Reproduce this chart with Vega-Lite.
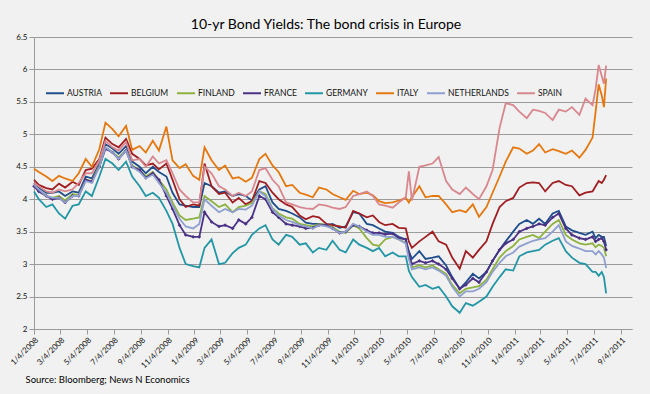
{
"$schema":"https://vega.github.io/schema/vega-lite/v6.json",
"width":598,"height":292,
"autosize":{"type":"none"},
"padding":{"left":34,"top":37,"right":18,"bottom":65},
"background":"#F1F1F1",
"config":{"view":{"stroke":null},"font":"Lato"},
"title":{"text":"10-yr Bond Yields: The bond crisis in Europe","font":"Lato","fontSize":14,"fontWeight":"normal","color":"#000","anchor":"middle","offset":1,"dx":-7},
"datasets":{
"AUSTRIA":[{"date":"2008-01-04","yield":4.25},{"date":"2008-01-15","yield":4.18},{"date":"2008-02-01","yield":4.10},{"date":"2008-02-15","yield":4.10},{"date":"2008-03-01","yield":4.12},{"date":"2008-03-15","yield":4.05},{"date":"2008-04-01","yield":4.12},{"date":"2008-04-15","yield":4.10},{"date":"2008-05-01","yield":4.35},{"date":"2008-05-15","yield":4.32},{"date":"2008-06-01","yield":4.55},{"date":"2008-06-15","yield":4.85},{"date":"2008-07-01","yield":4.78},{"date":"2008-07-15","yield":4.70},{"date":"2008-08-01","yield":4.82},{"date":"2008-08-15","yield":4.58},{"date":"2008-09-01","yield":4.50},{"date":"2008-09-15","yield":4.40},{"date":"2008-10-01","yield":4.50},{"date":"2008-10-15","yield":4.42},{"date":"2008-11-01","yield":4.35},{"date":"2008-11-15","yield":4.10},{"date":"2008-12-01","yield":3.92},{"date":"2008-12-15","yield":3.90},{"date":"2009-01-01","yield":3.88},{"date":"2009-01-15","yield":3.88},{"date":"2009-01-27","yield":4.25},{"date":"2009-02-12","yield":4.20},{"date":"2009-03-01","yield":4.10},{"date":"2009-03-15","yield":4.12},{"date":"2009-04-01","yield":4.05},{"date":"2009-04-15","yield":4.08},{"date":"2009-05-01","yield":4.05},{"date":"2009-05-15","yield":3.98},{"date":"2009-06-01","yield":4.15},{"date":"2009-06-15","yield":4.20},{"date":"2009-07-01","yield":3.95},{"date":"2009-07-15","yield":3.85},{"date":"2009-08-01","yield":3.82},{"date":"2009-08-15","yield":3.78},{"date":"2009-09-01","yield":3.72},{"date":"2009-09-15","yield":3.64},{"date":"2009-10-01","yield":3.62},{"date":"2009-10-15","yield":3.62},{"date":"2009-11-01","yield":3.60},{"date":"2009-11-15","yield":3.62},{"date":"2009-12-01","yield":3.56},{"date":"2009-12-15","yield":3.58},{"date":"2010-01-01","yield":3.80},{"date":"2010-01-15","yield":3.78},{"date":"2010-02-01","yield":3.62},{"date":"2010-02-15","yield":3.60},{"date":"2010-03-01","yield":3.55},{"date":"2010-03-15","yield":3.50},{"date":"2010-04-01","yield":3.48},{"date":"2010-04-15","yield":3.42},{"date":"2010-05-01","yield":3.38},{"date":"2010-05-08","yield":3.20},{"date":"2010-05-15","yield":3.08},{"date":"2010-06-01","yield":3.20},{"date":"2010-06-15","yield":3.08},{"date":"2010-07-01","yield":3.10},{"date":"2010-07-15","yield":3.12},{"date":"2010-08-01","yield":2.98},{"date":"2010-08-15","yield":2.80},{"date":"2010-09-01","yield":2.62},{"date":"2010-09-15","yield":2.72},{"date":"2010-10-01","yield":2.85},{"date":"2010-10-15","yield":2.78},{"date":"2010-11-01","yield":2.88},{"date":"2010-11-15","yield":3.05},{"date":"2010-12-01","yield":3.22},{"date":"2010-12-15","yield":3.35},{"date":"2011-01-01","yield":3.50},{"date":"2011-01-15","yield":3.62},{"date":"2011-02-01","yield":3.68},{"date":"2011-02-15","yield":3.62},{"date":"2011-03-01","yield":3.70},{"date":"2011-03-15","yield":3.62},{"date":"2011-04-01","yield":3.78},{"date":"2011-04-15","yield":3.82},{"date":"2011-05-01","yield":3.58},{"date":"2011-05-15","yield":3.52},{"date":"2011-06-01","yield":3.48},{"date":"2011-06-15","yield":3.45},{"date":"2011-07-01","yield":3.50},{"date":"2011-07-08","yield":3.40},{"date":"2011-07-15","yield":3.45},{"date":"2011-07-22","yield":3.42},{"date":"2011-07-27","yield":3.42},{"date":"2011-08-01","yield":3.28}],
"BELGIUM":[{"date":"2008-01-04","yield":4.30},{"date":"2008-01-15","yield":4.22},{"date":"2008-02-01","yield":4.17},{"date":"2008-02-15","yield":4.15},{"date":"2008-03-01","yield":4.24},{"date":"2008-03-15","yield":4.18},{"date":"2008-04-01","yield":4.27},{"date":"2008-04-15","yield":4.22},{"date":"2008-05-01","yield":4.45},{"date":"2008-05-15","yield":4.47},{"date":"2008-06-01","yield":4.62},{"date":"2008-06-15","yield":4.95},{"date":"2008-07-01","yield":4.85},{"date":"2008-07-15","yield":4.80},{"date":"2008-08-01","yield":4.93},{"date":"2008-08-15","yield":4.70},{"date":"2008-09-01","yield":4.62},{"date":"2008-09-15","yield":4.52},{"date":"2008-10-01","yield":4.55},{"date":"2008-10-15","yield":4.46},{"date":"2008-11-01","yield":4.55},{"date":"2008-11-15","yield":4.30},{"date":"2008-12-01","yield":4.00},{"date":"2008-12-15","yield":3.88},{"date":"2009-01-01","yield":3.92},{"date":"2009-01-15","yield":3.90},{"date":"2009-01-27","yield":4.55},{"date":"2009-02-12","yield":4.20},{"date":"2009-03-01","yield":4.08},{"date":"2009-03-15","yield":4.10},{"date":"2009-04-01","yield":3.95},{"date":"2009-04-15","yield":4.02},{"date":"2009-05-01","yield":3.92},{"date":"2009-05-15","yield":3.97},{"date":"2009-06-01","yield":4.28},{"date":"2009-06-15","yield":4.25},{"date":"2009-07-01","yield":4.10},{"date":"2009-07-15","yield":4.00},{"date":"2009-08-01","yield":3.92},{"date":"2009-08-15","yield":3.88},{"date":"2009-09-01","yield":3.75},{"date":"2009-09-15","yield":3.69},{"date":"2009-10-01","yield":3.74},{"date":"2009-10-15","yield":3.72},{"date":"2009-11-01","yield":3.62},{"date":"2009-11-15","yield":3.60},{"date":"2009-12-01","yield":3.58},{"date":"2009-12-15","yield":3.56},{"date":"2010-01-01","yield":3.82},{"date":"2010-01-15","yield":3.78},{"date":"2010-02-01","yield":3.72},{"date":"2010-02-15","yield":3.75},{"date":"2010-03-01","yield":3.65},{"date":"2010-03-15","yield":3.60},{"date":"2010-04-01","yield":3.62},{"date":"2010-04-15","yield":3.56},{"date":"2010-05-01","yield":3.55},{"date":"2010-05-08","yield":3.35},{"date":"2010-05-15","yield":3.25},{"date":"2010-06-01","yield":3.35},{"date":"2010-06-15","yield":3.42},{"date":"2010-07-01","yield":3.50},{"date":"2010-07-15","yield":3.35},{"date":"2010-08-01","yield":3.30},{"date":"2010-08-15","yield":3.10},{"date":"2010-09-01","yield":2.93},{"date":"2010-09-15","yield":3.20},{"date":"2010-10-01","yield":3.10},{"date":"2010-10-15","yield":3.22},{"date":"2010-11-01","yield":3.35},{"date":"2010-11-15","yield":3.62},{"date":"2010-12-01","yield":3.88},{"date":"2010-12-15","yield":3.97},{"date":"2011-01-01","yield":4.02},{"date":"2011-01-15","yield":4.18},{"date":"2011-02-01","yield":4.25},{"date":"2011-02-15","yield":4.26},{"date":"2011-03-01","yield":4.25},{"date":"2011-03-15","yield":4.12},{"date":"2011-04-01","yield":4.25},{"date":"2011-04-15","yield":4.28},{"date":"2011-05-01","yield":4.22},{"date":"2011-05-15","yield":4.20},{"date":"2011-06-01","yield":4.06},{"date":"2011-06-15","yield":4.10},{"date":"2011-07-01","yield":4.12},{"date":"2011-07-08","yield":4.20},{"date":"2011-07-15","yield":4.28},{"date":"2011-07-22","yield":4.25},{"date":"2011-07-27","yield":4.30},{"date":"2011-08-01","yield":4.37}],
"FINLAND":[{"date":"2008-01-04","yield":4.20},{"date":"2008-01-15","yield":4.13},{"date":"2008-02-01","yield":4.05},{"date":"2008-02-15","yield":4.02},{"date":"2008-03-01","yield":4.05},{"date":"2008-03-15","yield":3.98},{"date":"2008-04-01","yield":4.08},{"date":"2008-04-15","yield":4.06},{"date":"2008-05-01","yield":4.30},{"date":"2008-05-15","yield":4.28},{"date":"2008-06-01","yield":4.52},{"date":"2008-06-15","yield":4.80},{"date":"2008-07-01","yield":4.73},{"date":"2008-07-15","yield":4.64},{"date":"2008-08-01","yield":4.76},{"date":"2008-08-15","yield":4.52},{"date":"2008-09-01","yield":4.45},{"date":"2008-09-15","yield":4.35},{"date":"2008-10-01","yield":4.42},{"date":"2008-10-15","yield":4.30},{"date":"2008-11-01","yield":4.15},{"date":"2008-11-15","yield":3.95},{"date":"2008-12-01","yield":3.75},{"date":"2008-12-15","yield":3.68},{"date":"2009-01-01","yield":3.70},{"date":"2009-01-15","yield":3.72},{"date":"2009-01-27","yield":4.05},{"date":"2009-02-12","yield":3.97},{"date":"2009-03-01","yield":3.88},{"date":"2009-03-15","yield":3.92},{"date":"2009-04-01","yield":3.80},{"date":"2009-04-15","yield":3.88},{"date":"2009-05-01","yield":3.90},{"date":"2009-05-15","yield":3.94},{"date":"2009-06-01","yield":4.12},{"date":"2009-06-15","yield":4.08},{"date":"2009-07-01","yield":3.86},{"date":"2009-07-15","yield":3.78},{"date":"2009-08-01","yield":3.72},{"date":"2009-08-15","yield":3.70},{"date":"2009-09-01","yield":3.62},{"date":"2009-09-15","yield":3.60},{"date":"2009-10-01","yield":3.58},{"date":"2009-10-15","yield":3.62},{"date":"2009-11-01","yield":3.60},{"date":"2009-11-15","yield":3.57},{"date":"2009-12-01","yield":3.50},{"date":"2009-12-15","yield":3.48},{"date":"2010-01-01","yield":3.60},{"date":"2010-01-15","yield":3.55},{"date":"2010-02-01","yield":3.40},{"date":"2010-02-15","yield":3.30},{"date":"2010-03-01","yield":3.28},{"date":"2010-03-15","yield":3.38},{"date":"2010-04-01","yield":3.42},{"date":"2010-04-15","yield":3.38},{"date":"2010-05-01","yield":3.33},{"date":"2010-05-08","yield":3.10},{"date":"2010-05-15","yield":2.95},{"date":"2010-06-01","yield":2.98},{"date":"2010-06-15","yield":2.95},{"date":"2010-07-01","yield":2.98},{"date":"2010-07-15","yield":2.92},{"date":"2010-08-01","yield":2.85},{"date":"2010-08-15","yield":2.68},{"date":"2010-09-01","yield":2.55},{"date":"2010-09-15","yield":2.62},{"date":"2010-10-01","yield":2.64},{"date":"2010-10-15","yield":2.66},{"date":"2010-11-01","yield":2.76},{"date":"2010-11-15","yield":2.92},{"date":"2010-12-01","yield":3.10},{"date":"2010-12-15","yield":3.20},{"date":"2011-01-01","yield":3.28},{"date":"2011-01-15","yield":3.38},{"date":"2011-02-01","yield":3.42},{"date":"2011-02-15","yield":3.45},{"date":"2011-03-01","yield":3.40},{"date":"2011-03-15","yield":3.50},{"date":"2011-04-01","yield":3.62},{"date":"2011-04-15","yield":3.68},{"date":"2011-05-01","yield":3.45},{"date":"2011-05-15","yield":3.38},{"date":"2011-06-01","yield":3.32},{"date":"2011-06-15","yield":3.30},{"date":"2011-07-01","yield":3.32},{"date":"2011-07-08","yield":3.26},{"date":"2011-07-15","yield":3.30},{"date":"2011-07-22","yield":3.28},{"date":"2011-07-27","yield":3.25},{"date":"2011-08-01","yield":3.12}],
"FRANCE":[{"date":"2008-01-04","yield":4.20},{"date":"2008-01-15","yield":4.12},{"date":"2008-02-01","yield":4.05},{"date":"2008-02-15","yield":4.00},{"date":"2008-03-01","yield":4.02},{"date":"2008-03-15","yield":3.95},{"date":"2008-04-01","yield":4.05},{"date":"2008-04-15","yield":4.05},{"date":"2008-05-01","yield":4.30},{"date":"2008-05-15","yield":4.27},{"date":"2008-06-01","yield":4.50},{"date":"2008-06-15","yield":4.78},{"date":"2008-07-01","yield":4.72},{"date":"2008-07-15","yield":4.62},{"date":"2008-08-01","yield":4.75},{"date":"2008-08-15","yield":4.50},{"date":"2008-09-01","yield":4.45},{"date":"2008-09-15","yield":4.33},{"date":"2008-10-01","yield":4.40},{"date":"2008-10-15","yield":4.30},{"date":"2008-11-01","yield":4.05},{"date":"2008-11-15","yield":3.85},{"date":"2008-12-01","yield":3.60},{"date":"2008-12-15","yield":3.45},{"date":"2009-01-01","yield":3.42},{"date":"2009-01-15","yield":3.42},{"date":"2009-01-27","yield":3.80},{"date":"2009-02-12","yield":3.65},{"date":"2009-03-01","yield":3.58},{"date":"2009-03-15","yield":3.60},{"date":"2009-04-01","yield":3.55},{"date":"2009-04-15","yield":3.68},{"date":"2009-05-01","yield":3.62},{"date":"2009-05-15","yield":3.72},{"date":"2009-06-01","yield":4.05},{"date":"2009-06-15","yield":4.00},{"date":"2009-07-01","yield":3.80},{"date":"2009-07-15","yield":3.72},{"date":"2009-08-01","yield":3.62},{"date":"2009-08-15","yield":3.60},{"date":"2009-09-01","yield":3.58},{"date":"2009-09-15","yield":3.55},{"date":"2009-10-01","yield":3.56},{"date":"2009-10-15","yield":3.60},{"date":"2009-11-01","yield":3.60},{"date":"2009-11-15","yield":3.55},{"date":"2009-12-01","yield":3.48},{"date":"2009-12-15","yield":3.50},{"date":"2010-01-01","yield":3.60},{"date":"2010-01-15","yield":3.58},{"date":"2010-02-01","yield":3.52},{"date":"2010-02-15","yield":3.48},{"date":"2010-03-01","yield":3.48},{"date":"2010-03-15","yield":3.46},{"date":"2010-04-01","yield":3.47},{"date":"2010-04-15","yield":3.40},{"date":"2010-05-01","yield":3.38},{"date":"2010-05-08","yield":3.15},{"date":"2010-05-15","yield":3.00},{"date":"2010-06-01","yield":3.05},{"date":"2010-06-15","yield":3.02},{"date":"2010-07-01","yield":3.05},{"date":"2010-07-15","yield":3.00},{"date":"2010-08-01","yield":2.92},{"date":"2010-08-15","yield":2.78},{"date":"2010-09-01","yield":2.62},{"date":"2010-09-15","yield":2.68},{"date":"2010-10-01","yield":2.78},{"date":"2010-10-15","yield":2.72},{"date":"2010-11-01","yield":2.88},{"date":"2010-11-15","yield":3.05},{"date":"2010-12-01","yield":3.22},{"date":"2010-12-15","yield":3.32},{"date":"2011-01-01","yield":3.38},{"date":"2011-01-15","yield":3.50},{"date":"2011-02-01","yield":3.55},{"date":"2011-02-15","yield":3.58},{"date":"2011-03-01","yield":3.62},{"date":"2011-03-15","yield":3.60},{"date":"2011-04-01","yield":3.72},{"date":"2011-04-15","yield":3.78},{"date":"2011-05-01","yield":3.55},{"date":"2011-05-15","yield":3.45},{"date":"2011-06-01","yield":3.40},{"date":"2011-06-15","yield":3.38},{"date":"2011-07-01","yield":3.42},{"date":"2011-07-08","yield":3.35},{"date":"2011-07-15","yield":3.38},{"date":"2011-07-22","yield":3.40},{"date":"2011-07-27","yield":3.35},{"date":"2011-08-01","yield":3.22}],
"GERMANY":[{"date":"2008-01-04","yield":4.12},{"date":"2008-01-15","yield":4.00},{"date":"2008-02-01","yield":3.88},{"date":"2008-02-15","yield":3.92},{"date":"2008-03-01","yield":3.78},{"date":"2008-03-15","yield":3.70},{"date":"2008-04-01","yield":3.90},{"date":"2008-04-15","yield":3.92},{"date":"2008-05-01","yield":4.12},{"date":"2008-05-15","yield":4.05},{"date":"2008-06-01","yield":4.35},{"date":"2008-06-15","yield":4.62},{"date":"2008-07-01","yield":4.55},{"date":"2008-07-15","yield":4.45},{"date":"2008-08-01","yield":4.58},{"date":"2008-08-15","yield":4.35},{"date":"2008-09-01","yield":4.20},{"date":"2008-09-15","yield":4.05},{"date":"2008-10-01","yield":4.10},{"date":"2008-10-15","yield":4.02},{"date":"2008-11-01","yield":3.82},{"date":"2008-11-15","yield":3.62},{"date":"2008-12-01","yield":3.25},{"date":"2008-12-15","yield":3.00},{"date":"2009-01-01","yield":2.97},{"date":"2009-01-15","yield":2.95},{"date":"2009-01-27","yield":3.25},{"date":"2009-02-12","yield":3.38},{"date":"2009-03-01","yield":3.00},{"date":"2009-03-15","yield":3.02},{"date":"2009-04-01","yield":3.17},{"date":"2009-04-15","yield":3.25},{"date":"2009-05-01","yield":3.30},{"date":"2009-05-15","yield":3.45},{"date":"2009-06-01","yield":3.55},{"date":"2009-06-15","yield":3.60},{"date":"2009-07-01","yield":3.38},{"date":"2009-07-15","yield":3.30},{"date":"2009-08-01","yield":3.45},{"date":"2009-08-15","yield":3.42},{"date":"2009-09-01","yield":3.30},{"date":"2009-09-15","yield":3.32},{"date":"2009-10-01","yield":3.18},{"date":"2009-10-15","yield":3.25},{"date":"2009-11-01","yield":3.22},{"date":"2009-11-15","yield":3.36},{"date":"2009-12-01","yield":3.22},{"date":"2009-12-15","yield":3.18},{"date":"2010-01-01","yield":3.38},{"date":"2010-01-15","yield":3.30},{"date":"2010-02-01","yield":3.25},{"date":"2010-02-15","yield":3.20},{"date":"2010-03-01","yield":3.25},{"date":"2010-03-15","yield":3.12},{"date":"2010-04-01","yield":3.18},{"date":"2010-04-15","yield":3.12},{"date":"2010-05-01","yield":3.12},{"date":"2010-05-08","yield":2.90},{"date":"2010-05-15","yield":2.80},{"date":"2010-06-01","yield":2.65},{"date":"2010-06-15","yield":2.68},{"date":"2010-07-01","yield":2.62},{"date":"2010-07-15","yield":2.65},{"date":"2010-08-01","yield":2.50},{"date":"2010-08-15","yield":2.35},{"date":"2010-09-01","yield":2.25},{"date":"2010-09-15","yield":2.40},{"date":"2010-10-01","yield":2.36},{"date":"2010-10-15","yield":2.42},{"date":"2010-11-01","yield":2.50},{"date":"2010-11-15","yield":2.65},{"date":"2010-12-01","yield":2.80},{"date":"2010-12-15","yield":2.92},{"date":"2011-01-01","yield":2.90},{"date":"2011-01-15","yield":3.12},{"date":"2011-02-01","yield":3.18},{"date":"2011-02-15","yield":3.20},{"date":"2011-03-01","yield":3.22},{"date":"2011-03-15","yield":3.30},{"date":"2011-04-01","yield":3.36},{"date":"2011-04-15","yield":3.40},{"date":"2011-05-01","yield":3.20},{"date":"2011-05-15","yield":3.10},{"date":"2011-06-01","yield":3.02},{"date":"2011-06-15","yield":3.00},{"date":"2011-07-01","yield":2.88},{"date":"2011-07-08","yield":2.88},{"date":"2011-07-15","yield":2.82},{"date":"2011-07-22","yield":2.88},{"date":"2011-07-27","yield":2.80},{"date":"2011-08-01","yield":2.55}],
"ITALY":[{"date":"2008-01-04","yield":4.47},{"date":"2008-01-15","yield":4.42},{"date":"2008-02-01","yield":4.35},{"date":"2008-02-15","yield":4.28},{"date":"2008-03-01","yield":4.36},{"date":"2008-03-15","yield":4.32},{"date":"2008-04-01","yield":4.28},{"date":"2008-04-15","yield":4.40},{"date":"2008-05-01","yield":4.62},{"date":"2008-05-15","yield":4.50},{"date":"2008-06-01","yield":4.77},{"date":"2008-06-15","yield":5.18},{"date":"2008-07-01","yield":5.08},{"date":"2008-07-15","yield":4.97},{"date":"2008-08-01","yield":5.13},{"date":"2008-08-15","yield":4.76},{"date":"2008-09-01","yield":4.82},{"date":"2008-09-15","yield":4.72},{"date":"2008-10-01","yield":4.90},{"date":"2008-10-15","yield":4.75},{"date":"2008-11-01","yield":5.12},{"date":"2008-11-15","yield":4.60},{"date":"2008-12-01","yield":4.48},{"date":"2008-12-15","yield":4.54},{"date":"2009-01-01","yield":4.36},{"date":"2009-01-15","yield":4.30},{"date":"2009-01-27","yield":4.80},{"date":"2009-02-12","yield":4.60},{"date":"2009-03-01","yield":4.45},{"date":"2009-03-15","yield":4.52},{"date":"2009-04-01","yield":4.32},{"date":"2009-04-15","yield":4.34},{"date":"2009-05-01","yield":4.27},{"date":"2009-05-15","yield":4.33},{"date":"2009-06-01","yield":4.62},{"date":"2009-06-15","yield":4.70},{"date":"2009-07-01","yield":4.52},{"date":"2009-07-15","yield":4.42},{"date":"2009-08-01","yield":4.20},{"date":"2009-08-15","yield":4.22},{"date":"2009-09-01","yield":4.10},{"date":"2009-09-15","yield":4.07},{"date":"2009-10-01","yield":4.03},{"date":"2009-10-15","yield":4.18},{"date":"2009-11-01","yield":4.15},{"date":"2009-11-15","yield":4.08},{"date":"2009-12-01","yield":4.03},{"date":"2009-12-15","yield":3.99},{"date":"2010-01-01","yield":4.13},{"date":"2010-01-15","yield":4.08},{"date":"2010-02-01","yield":4.10},{"date":"2010-02-15","yield":4.06},{"date":"2010-03-01","yield":3.97},{"date":"2010-03-15","yield":3.94},{"date":"2010-04-01","yield":3.95},{"date":"2010-04-15","yield":3.98},{"date":"2010-05-01","yield":4.02},{"date":"2010-05-08","yield":3.95},{"date":"2010-05-15","yield":4.03},{"date":"2010-06-01","yield":4.20},{"date":"2010-06-15","yield":4.03},{"date":"2010-07-01","yield":4.05},{"date":"2010-07-15","yield":4.05},{"date":"2010-08-01","yield":3.92},{"date":"2010-08-15","yield":3.80},{"date":"2010-09-01","yield":3.83},{"date":"2010-09-15","yield":3.80},{"date":"2010-10-01","yield":3.92},{"date":"2010-10-15","yield":3.73},{"date":"2010-11-01","yield":3.88},{"date":"2010-11-15","yield":4.10},{"date":"2010-12-01","yield":4.35},{"date":"2010-12-15","yield":4.58},{"date":"2011-01-01","yield":4.80},{"date":"2011-01-15","yield":4.78},{"date":"2011-02-01","yield":4.70},{"date":"2011-02-15","yield":4.75},{"date":"2011-03-01","yield":4.85},{"date":"2011-03-15","yield":4.72},{"date":"2011-04-01","yield":4.77},{"date":"2011-04-15","yield":4.74},{"date":"2011-05-01","yield":4.70},{"date":"2011-05-15","yield":4.75},{"date":"2011-06-01","yield":4.64},{"date":"2011-06-15","yield":4.76},{"date":"2011-07-01","yield":4.95},{"date":"2011-07-08","yield":5.35},{"date":"2011-07-15","yield":5.77},{"date":"2011-07-22","yield":5.60},{"date":"2011-07-27","yield":5.42},{"date":"2011-08-01","yield":5.86}],
"NETHERLANDS":[{"date":"2008-01-04","yield":4.22},{"date":"2008-01-15","yield":4.15},{"date":"2008-02-01","yield":4.05},{"date":"2008-02-15","yield":4.02},{"date":"2008-03-01","yield":4.02},{"date":"2008-03-15","yield":3.95},{"date":"2008-04-01","yield":4.05},{"date":"2008-04-15","yield":4.05},{"date":"2008-05-01","yield":4.28},{"date":"2008-05-15","yield":4.25},{"date":"2008-06-01","yield":4.50},{"date":"2008-06-15","yield":4.80},{"date":"2008-07-01","yield":4.72},{"date":"2008-07-15","yield":4.62},{"date":"2008-08-01","yield":4.75},{"date":"2008-08-15","yield":4.50},{"date":"2008-09-01","yield":4.42},{"date":"2008-09-15","yield":4.32},{"date":"2008-10-01","yield":4.38},{"date":"2008-10-15","yield":4.25},{"date":"2008-11-01","yield":4.10},{"date":"2008-11-15","yield":3.90},{"date":"2008-12-01","yield":3.70},{"date":"2008-12-15","yield":3.58},{"date":"2009-01-01","yield":3.55},{"date":"2009-01-15","yield":3.62},{"date":"2009-01-27","yield":4.00},{"date":"2009-02-12","yield":3.90},{"date":"2009-03-01","yield":3.80},{"date":"2009-03-15","yield":3.85},{"date":"2009-04-01","yield":3.80},{"date":"2009-04-15","yield":3.85},{"date":"2009-05-01","yield":3.84},{"date":"2009-05-15","yield":3.90},{"date":"2009-06-01","yield":4.12},{"date":"2009-06-15","yield":4.05},{"date":"2009-07-01","yield":3.85},{"date":"2009-07-15","yield":3.75},{"date":"2009-08-01","yield":3.68},{"date":"2009-08-15","yield":3.65},{"date":"2009-09-01","yield":3.60},{"date":"2009-09-15","yield":3.58},{"date":"2009-10-01","yield":3.55},{"date":"2009-10-15","yield":3.60},{"date":"2009-11-01","yield":3.58},{"date":"2009-11-15","yield":3.55},{"date":"2009-12-01","yield":3.48},{"date":"2009-12-15","yield":3.50},{"date":"2010-01-01","yield":3.62},{"date":"2010-01-15","yield":3.58},{"date":"2010-02-01","yield":3.50},{"date":"2010-02-15","yield":3.45},{"date":"2010-03-01","yield":3.45},{"date":"2010-03-15","yield":3.42},{"date":"2010-04-01","yield":3.42},{"date":"2010-04-15","yield":3.38},{"date":"2010-05-01","yield":3.32},{"date":"2010-05-08","yield":3.08},{"date":"2010-05-15","yield":2.92},{"date":"2010-06-01","yield":2.95},{"date":"2010-06-15","yield":2.92},{"date":"2010-07-01","yield":2.95},{"date":"2010-07-15","yield":2.90},{"date":"2010-08-01","yield":2.82},{"date":"2010-08-15","yield":2.65},{"date":"2010-09-01","yield":2.50},{"date":"2010-09-15","yield":2.58},{"date":"2010-10-01","yield":2.58},{"date":"2010-10-15","yield":2.62},{"date":"2010-11-01","yield":2.72},{"date":"2010-11-15","yield":2.88},{"date":"2010-12-01","yield":3.02},{"date":"2010-12-15","yield":3.12},{"date":"2011-01-01","yield":3.18},{"date":"2011-01-15","yield":3.27},{"date":"2011-02-01","yield":3.32},{"date":"2011-02-15","yield":3.36},{"date":"2011-03-01","yield":3.38},{"date":"2011-03-15","yield":3.40},{"date":"2011-04-01","yield":3.50},{"date":"2011-04-15","yield":3.60},{"date":"2011-05-01","yield":3.35},{"date":"2011-05-15","yield":3.28},{"date":"2011-06-01","yield":3.24},{"date":"2011-06-15","yield":3.20},{"date":"2011-07-01","yield":3.20},{"date":"2011-07-08","yield":3.15},{"date":"2011-07-15","yield":3.20},{"date":"2011-07-22","yield":3.15},{"date":"2011-07-27","yield":3.10},{"date":"2011-08-01","yield":2.94}],
"SPAIN":[{"date":"2008-01-04","yield":4.25},{"date":"2008-01-15","yield":4.20},{"date":"2008-02-01","yield":4.12},{"date":"2008-02-15","yield":4.10},{"date":"2008-03-01","yield":4.15},{"date":"2008-03-15","yield":4.12},{"date":"2008-04-01","yield":4.15},{"date":"2008-04-15","yield":4.25},{"date":"2008-05-01","yield":4.40},{"date":"2008-05-15","yield":4.40},{"date":"2008-06-01","yield":4.60},{"date":"2008-06-15","yield":4.90},{"date":"2008-07-01","yield":4.80},{"date":"2008-07-15","yield":4.75},{"date":"2008-08-01","yield":4.88},{"date":"2008-08-15","yield":4.60},{"date":"2008-09-01","yield":4.62},{"date":"2008-09-15","yield":4.50},{"date":"2008-10-01","yield":4.66},{"date":"2008-10-15","yield":4.55},{"date":"2008-11-01","yield":4.60},{"date":"2008-11-15","yield":4.40},{"date":"2008-12-01","yield":4.15},{"date":"2008-12-15","yield":4.05},{"date":"2009-01-01","yield":3.95},{"date":"2009-01-15","yield":3.95},{"date":"2009-01-27","yield":4.50},{"date":"2009-02-12","yield":4.40},{"date":"2009-03-01","yield":4.20},{"date":"2009-03-15","yield":4.15},{"date":"2009-04-01","yield":4.05},{"date":"2009-04-15","yield":4.10},{"date":"2009-05-01","yield":4.05},{"date":"2009-05-15","yield":4.12},{"date":"2009-06-01","yield":4.45},{"date":"2009-06-15","yield":4.48},{"date":"2009-07-01","yield":4.30},{"date":"2009-07-15","yield":4.20},{"date":"2009-08-01","yield":3.95},{"date":"2009-08-15","yield":3.92},{"date":"2009-09-01","yield":3.88},{"date":"2009-09-15","yield":3.86},{"date":"2009-10-01","yield":3.85},{"date":"2009-10-15","yield":3.92},{"date":"2009-11-01","yield":3.90},{"date":"2009-11-15","yield":3.87},{"date":"2009-12-01","yield":3.85},{"date":"2009-12-15","yield":3.88},{"date":"2010-01-01","yield":4.05},{"date":"2010-01-15","yield":4.08},{"date":"2010-02-01","yield":4.12},{"date":"2010-02-15","yield":4.05},{"date":"2010-03-01","yield":3.92},{"date":"2010-03-15","yield":3.90},{"date":"2010-04-01","yield":3.87},{"date":"2010-04-15","yield":3.95},{"date":"2010-05-01","yield":4.03},{"date":"2010-05-08","yield":4.43},{"date":"2010-05-15","yield":3.98},{"date":"2010-06-01","yield":4.50},{"date":"2010-06-15","yield":4.52},{"date":"2010-07-01","yield":4.55},{"date":"2010-07-15","yield":4.65},{"date":"2010-08-01","yield":4.28},{"date":"2010-08-15","yield":4.15},{"date":"2010-09-01","yield":4.08},{"date":"2010-09-15","yield":4.18},{"date":"2010-10-01","yield":4.08},{"date":"2010-10-15","yield":4.00},{"date":"2010-11-01","yield":4.20},{"date":"2010-11-15","yield":4.45},{"date":"2010-12-01","yield":5.10},{"date":"2010-12-15","yield":5.48},{"date":"2011-01-01","yield":5.45},{"date":"2011-01-15","yield":5.35},{"date":"2011-02-01","yield":5.25},{"date":"2011-02-15","yield":5.38},{"date":"2011-03-01","yield":5.36},{"date":"2011-03-15","yield":5.33},{"date":"2011-04-01","yield":5.22},{"date":"2011-04-15","yield":5.38},{"date":"2011-05-01","yield":5.35},{"date":"2011-05-15","yield":5.42},{"date":"2011-06-01","yield":5.30},{"date":"2011-06-15","yield":5.55},{"date":"2011-07-01","yield":5.45},{"date":"2011-07-08","yield":5.70},{"date":"2011-07-15","yield":6.07},{"date":"2011-07-22","yield":5.90},{"date":"2011-07-27","yield":5.78},{"date":"2011-08-01","yield":6.06}]
},
"encoding":{
"x":{"field":"date","type":"temporal",
"scale":{"type":"utc","domain":[{"year":2008,"month":1,"date":4,"utc":true},{"year":2011,"month":9,"date":29,"utc":true}]},
"axis":{"values":[{"year":2008,"month":1,"date":4,"utc":true},{"year":2008,"month":3,"date":4,"utc":true},{"year":2008,"month":5,"date":4,"utc":true},{"year":2008,"month":7,"date":4,"utc":true},{"year":2008,"month":9,"date":4,"utc":true},{"year":2008,"month":11,"date":4,"utc":true},{"year":2009,"month":1,"date":4,"utc":true},{"year":2009,"month":3,"date":4,"utc":true},{"year":2009,"month":5,"date":4,"utc":true},{"year":2009,"month":7,"date":4,"utc":true},{"year":2009,"month":9,"date":4,"utc":true},{"year":2009,"month":11,"date":4,"utc":true},{"year":2010,"month":1,"date":4,"utc":true},{"year":2010,"month":3,"date":4,"utc":true},{"year":2010,"month":5,"date":4,"utc":true},{"year":2010,"month":7,"date":4,"utc":true},{"year":2010,"month":9,"date":4,"utc":true},{"year":2010,"month":11,"date":4,"utc":true},{"year":2011,"month":1,"date":4,"utc":true},{"year":2011,"month":3,"date":4,"utc":true},{"year":2011,"month":5,"date":4,"utc":true},{"year":2011,"month":7,"date":4,"utc":true},{"year":2011,"month":9,"date":4,"utc":true}],
"format":"%-m/%-d/%Y","labelAngle":-45,"labelFontSize":8,"labelFont":"Lato","labelColor":"#111","labelOverlap":false,"labelPadding":2,
"tickColor":"#9A9A9A","tickSize":5,"domainColor":"#9A9A9A","grid":false,
"title":"Source: Bloomberg; News N Economics","titleFont":"Lato","titleFontSize":9.5,"titleFontWeight":"normal","titleColor":"#000","titleAnchor":"start","titleAlign":"left","titleBaseline":"alphabetic","titleX":-9,"titleY":53}},
"y":{"field":"yield","type":"quantitative",
"scale":{"domain":[2,6.5],"nice":false,"zero":false},
"axis":{"values":[2,2.5,3,3.5,4,4.5,5,5.5,6,6.5],"format":"~g","grid":true,"gridColor":"#9C9C9C","gridWidth":1,"domainColor":"#9A9A9A","tickColor":"#9A9A9A","tickSize":5,"labelFontSize":8,"labelFont":"Lato","labelColor":"#111","labelPadding":2,"title":null}}
},
"layer":[
{"data":{"name":"AUSTRIA"},"mark":{"type":"line","strokeWidth":1.8},"encoding":{"color":{"datum":"AUSTRIA","type":"nominal","scale":{"domain":["AUSTRIA","BELGIUM","FINLAND","FRANCE","GERMANY","ITALY","NETHERLANDS","SPAIN"],"range":["#1F4E8C","#A01E22","#8DB23F","#4B3285","#2396A6","#E4780E","#8FA0D0","#D9878E"]},"legend":{"orient":"none","legendX":11,"legendY":46,"direction":"horizontal","title":null,"symbolType":"stroke","symbolSize":324,"symbolStrokeWidth":2,"labelFontSize":8.5,"labelFont":"Lato","labelColor":"#111","columnPadding":4,"labelOffset":2}}}},
{"data":{"name":"BELGIUM"},"mark":{"type":"line","strokeWidth":1.8},"encoding":{"color":{"datum":"BELGIUM","type":"nominal"}}},
{"data":{"name":"FINLAND"},"mark":{"type":"line","strokeWidth":1.8},"encoding":{"color":{"datum":"FINLAND","type":"nominal"}}},
{"data":{"name":"FRANCE"},"mark":{"type":"line","strokeWidth":1.8},"encoding":{"color":{"datum":"FRANCE","type":"nominal"}}},
{"data":{"name":"FRANCE"},"mark":{"type":"point","shape":"diamond","filled":true,"size":14,"color":"#4B3285","opacity":1}},
{"data":{"name":"GERMANY"},"mark":{"type":"line","strokeWidth":1.8},"encoding":{"color":{"datum":"GERMANY","type":"nominal"}}},
{"data":{"name":"ITALY"},"mark":{"type":"line","strokeWidth":1.8},"encoding":{"color":{"datum":"ITALY","type":"nominal"}}},
{"data":{"name":"NETHERLANDS"},"mark":{"type":"line","strokeWidth":1.8},"encoding":{"color":{"datum":"NETHERLANDS","type":"nominal"}}},
{"data":{"name":"SPAIN"},"mark":{"type":"line","strokeWidth":1.8},"encoding":{"color":{"datum":"SPAIN","type":"nominal"}}}
]
}
